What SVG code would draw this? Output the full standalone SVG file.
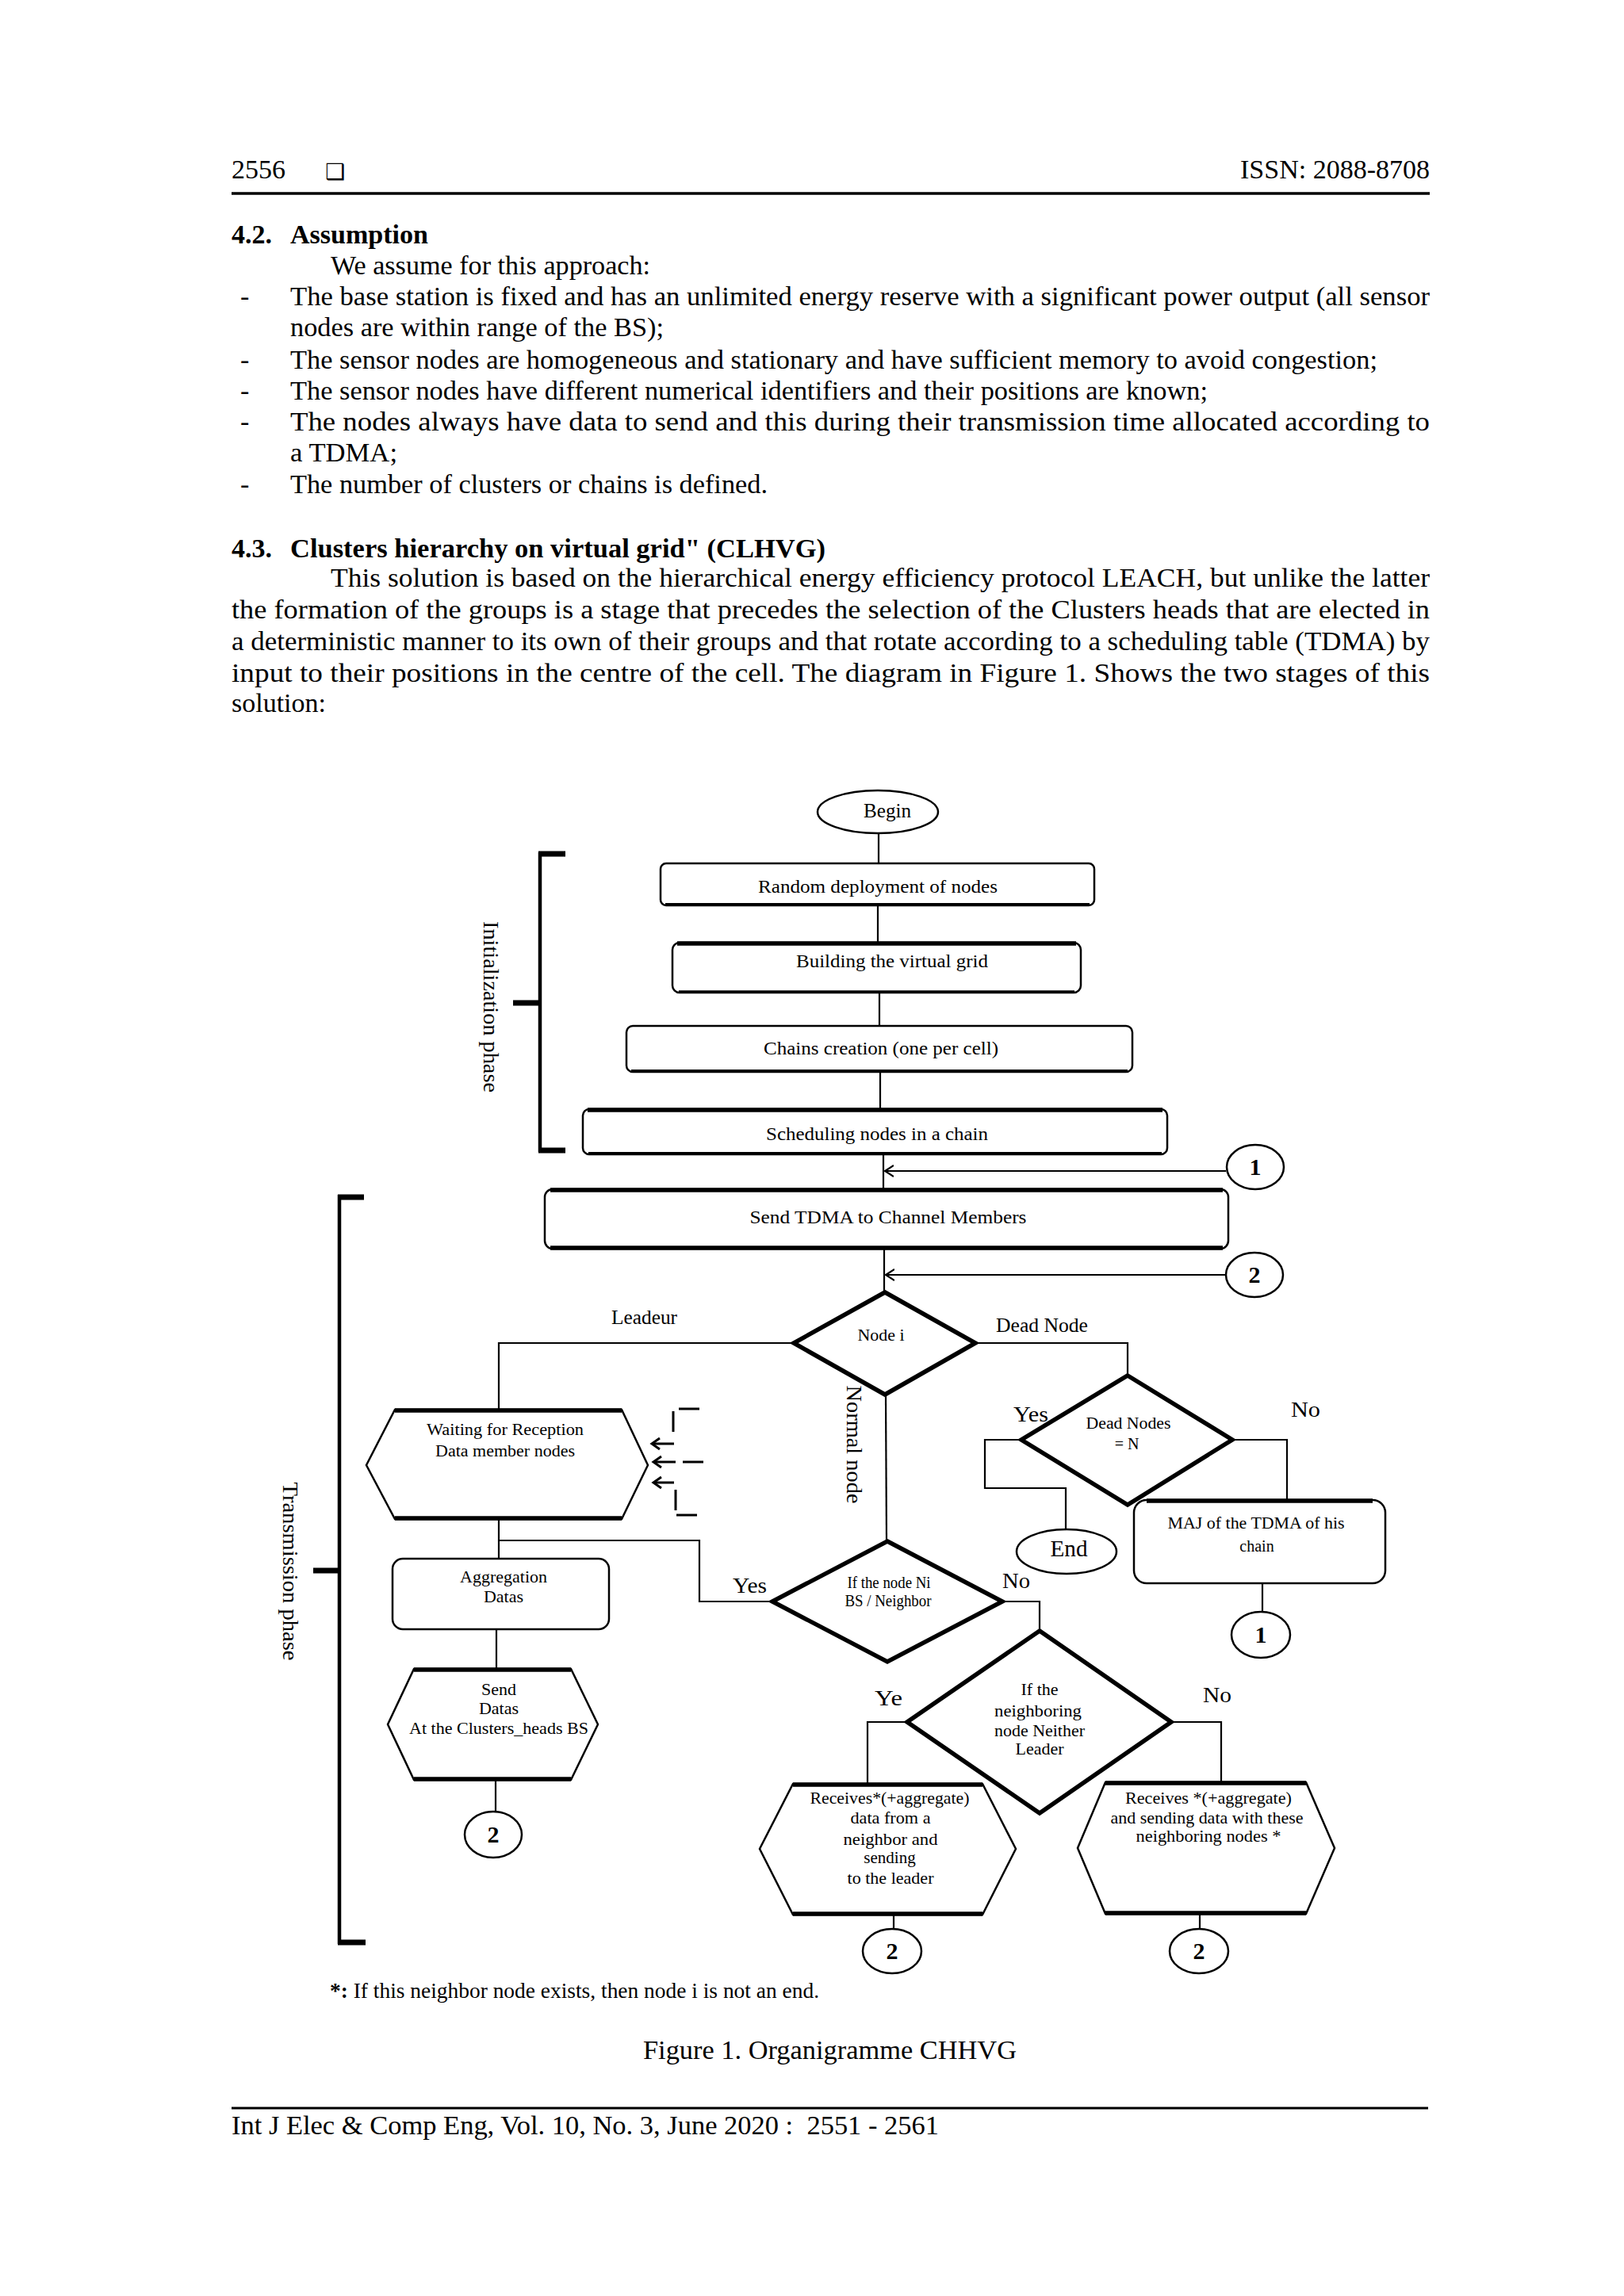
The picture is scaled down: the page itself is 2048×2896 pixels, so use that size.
<svg xmlns="http://www.w3.org/2000/svg" width="2048" height="2896" viewBox="0 0 2048 2896">
<defs>
<style>
.t{font-family:"Liberation Serif","Times New Roman",serif;fill:#000}
.b{font-size:34px}
.bb{font-size:34px;font-weight:bold}
.f{font-size:22px}
.fs{font-size:20px}
.fl{font-size:27px}
.num{font-size:30px;font-weight:bold}
.c{text-anchor:middle}
.ln{fill:none;stroke:#000;stroke-width:2.2}
.box{fill:#fff;stroke:#000;stroke-width:2.5}
.thick{stroke:#000;stroke-width:5.5;fill:none}
.dia{fill:#fff;stroke:#000;stroke-width:5.5;stroke-linejoin:miter}
.hex{fill:#fff;stroke:#000;stroke-width:2.5;stroke-linejoin:miter}
.circ{fill:#fff;stroke:#000;stroke-width:2.5}
.brk{fill:none;stroke:#000;stroke-width:4.5}
.cap{fill:none;stroke:#000;stroke-width:7}
</style>
<marker id="arr" markerUnits="userSpaceOnUse" markerWidth="14" markerHeight="16" refX="11" refY="8" orient="auto">
<path d="M0,1 L11,8 L0,15" fill="none" stroke="#000" stroke-width="2.2"/>
</marker>
</defs>
<rect width="2048" height="2896" fill="#fff"/>

<g id="page-header">
<text class="t b" x="292" y="225">2556</text>
<text x="410" y="226" style="font-family:'DejaVu Sans',sans-serif;font-size:28px">❑</text>
<text class="t b" x="1803" y="225" text-anchor="end">ISSN: 2088-8708</text>
<line x1="292" y1="244" x2="1803" y2="244" stroke="#000" stroke-width="3.5"/>
</g>

<g id="section-4-2">
<text class="t bb" x="292" y="307">4.2.</text>
<text class="t bb" x="366" y="307" textLength="174" lengthAdjust="spacingAndGlyphs">Assumption</text>
<text class="t b" x="417" y="346" textLength="403" lengthAdjust="spacingAndGlyphs">We assume for this approach:</text>
<text class="t b" x="303" y="385">-</text>
<text class="t b" x="366" y="385" textLength="1437" lengthAdjust="spacingAndGlyphs">The base station is fixed and has an unlimited energy reserve with a significant power output (all sensor</text>
<text class="t b" x="366" y="424" textLength="471" lengthAdjust="spacingAndGlyphs">nodes are within range of the BS);</text>
<text class="t b" x="303" y="465">-</text>
<text class="t b" x="366" y="465" textLength="1371" lengthAdjust="spacingAndGlyphs">The sensor nodes are homogeneous and stationary and have sufficient memory to avoid congestion;</text>
<text class="t b" x="303" y="504">-</text>
<text class="t b" x="366" y="504" textLength="1157" lengthAdjust="spacingAndGlyphs">The sensor nodes have different numerical identifiers and their positions are known;</text>
<text class="t b" x="303" y="543">-</text>
<text class="t b" x="366" y="543" textLength="1437" lengthAdjust="spacingAndGlyphs">The nodes always have data to send and this during their transmission time allocated according to</text>
<text class="t b" x="366" y="582" textLength="135" lengthAdjust="spacingAndGlyphs">a TDMA;</text>
<text class="t b" x="303" y="622">-</text>
<text class="t b" x="366" y="622" textLength="602" lengthAdjust="spacingAndGlyphs">The number of clusters or chains is defined.</text>
</g>

<g id="section-4-3">
<text class="t bb" x="292" y="703">4.3.</text>
<text class="t bb" x="366" y="703" textLength="675" lengthAdjust="spacingAndGlyphs">Clusters hierarchy on virtual grid" (CLHVG)</text>
<text class="t b" x="417" y="740" textLength="1386" lengthAdjust="spacingAndGlyphs">This solution is based on the hierarchical energy efficiency protocol LEACH, but unlike the latter</text>
<text class="t b" x="292" y="780" textLength="1511" lengthAdjust="spacingAndGlyphs">the formation of the groups is a stage that precedes the selection of the Clusters heads that are elected in</text>
<text class="t b" x="292" y="820" textLength="1511" lengthAdjust="spacingAndGlyphs">a deterministic manner to its own of their groups and that rotate according to a scheduling table (TDMA) by</text>
<text class="t b" x="292" y="860" textLength="1511" lengthAdjust="spacingAndGlyphs">input to their positions in the centre of the cell. The diagram in Figure 1. Shows the two stages of this</text>
<text class="t b" x="292" y="898" textLength="119" lengthAdjust="spacingAndGlyphs">solution:</text>
</g>

<g id="connectors">
<line class="ln" x1="1108" y1="1051" x2="1108" y2="1089"/>
<line class="ln" x1="1107" y1="1142" x2="1107" y2="1188"/>
<line class="ln" x1="1109" y1="1252" x2="1109" y2="1293"/>
<line class="ln" x1="1110" y1="1352" x2="1110" y2="1398"/>
<line class="ln" x1="1114" y1="1457" x2="1114" y2="1499"/>
<line class="ln" x1="1546" y1="1477" x2="1116" y2="1477" marker-end="url(#arr)"/>
<line class="ln" x1="1115" y1="1575" x2="1115" y2="1630"/>
<line class="ln" x1="1546" y1="1608" x2="1117" y2="1608" marker-end="url(#arr)"/>
<polyline class="ln" points="1001,1694 629,1694 629,1778"/>
<polyline class="ln" points="1230,1694 1422,1694 1422,1735"/>
<line class="ln" x1="1117" y1="1759" x2="1118" y2="1944"/>
<polyline class="ln" points="1288,1816 1242,1816 1242,1877 1344,1877 1344,1929"/>
<polyline class="ln" points="1554,1816 1623,1816 1623,1892"/>
<line class="ln" x1="1592" y1="1997" x2="1592" y2="2033"/>
<line class="ln" x1="629" y1="1916" x2="629" y2="1966"/>
<polyline class="ln" points="629,1943 882,1943 882,2020 974,2020"/>
<line class="ln" x1="626" y1="2055" x2="626" y2="2105"/>
<line class="ln" x1="625" y1="2245" x2="625" y2="2285"/>
<polyline class="ln" points="1264,2020 1311,2020 1311,2057"/>
<polyline class="ln" points="1144,2172 1094,2172 1094,2250"/>
<polyline class="ln" points="1477,2172 1540,2172 1540,2248"/>
<line class="ln" x1="1127" y1="2415" x2="1127" y2="2433"/>
<line class="ln" x1="1513" y1="2414" x2="1513" y2="2433"/>
</g>

<g id="edge-labels">
<text class="t" x="771" y="1670" style="font-size:26px" textLength="83" lengthAdjust="spacingAndGlyphs">Leadeur</text>
<text class="t" x="1256" y="1680" style="font-size:26px" textLength="116" lengthAdjust="spacingAndGlyphs">Dead Node</text>
<text class="t" x="1278" y="1793" style="font-size:28px" textLength="44" lengthAdjust="spacingAndGlyphs">Yes</text>
<text class="t" x="1628" y="1787" style="font-size:28px" textLength="37" lengthAdjust="spacingAndGlyphs">No</text>
<text class="t" x="924" y="2009" style="font-size:28px" textLength="43" lengthAdjust="spacingAndGlyphs">Yes</text>
<text class="t" x="1264" y="2003" style="font-size:28px" textLength="35" lengthAdjust="spacingAndGlyphs">No</text>
<text class="t" x="1103" y="2151" style="font-size:28px" textLength="35" lengthAdjust="spacingAndGlyphs">Ye</text>
<text class="t" x="1517" y="2147" style="font-size:28px" textLength="36" lengthAdjust="spacingAndGlyphs">No</text>
<text class="t c" transform="translate(1077,1822) rotate(90)" x="0" y="9" style="font-size:28px" textLength="149" lengthAdjust="spacingAndGlyphs">Normal node</text>
</g>

<g id="phase-brackets">
<line class="brk" x1="681" y1="1075" x2="681" y2="1453"/>
<line class="cap" x1="679" y1="1077" x2="713" y2="1077"/>
<line class="cap" x1="679" y1="1451" x2="713" y2="1451"/>
<line class="cap" x1="647" y1="1265" x2="683" y2="1265"/>
<text class="t c" transform="translate(619,1270) rotate(90)" x="0" y="9" style="font-size:28px" textLength="216" lengthAdjust="spacingAndGlyphs">Initialization phase</text>
<line class="brk" x1="428" y1="1507" x2="428" y2="2452"/>
<line class="cap" x1="426" y1="1510" x2="459" y2="1510"/>
<line class="cap" x1="426" y1="2450" x2="461" y2="2450"/>
<line class="cap" x1="395" y1="1981" x2="430" y2="1981"/>
<text class="t c" transform="translate(366,1982) rotate(90)" x="0" y="9" style="font-size:28px" textLength="225" lengthAdjust="spacingAndGlyphs">Transmission phase</text>
</g>

<g id="begin">
<ellipse class="circ" cx="1107" cy="1024" rx="76" ry="27"/>
<text class="t c" x="1119" y="1031" style="font-size:25px" textLength="60" lengthAdjust="spacingAndGlyphs">Begin</text>
</g>

<g id="random-deployment">
<rect class="box" x="833" y="1089" width="547" height="53" rx="7"/>
<line class="thick" x1="839" y1="1141" x2="1374" y2="1141" style="stroke-width:4"/>
<text class="t c" x="1107" y="1126" style="font-size:24px" textLength="302" lengthAdjust="spacingAndGlyphs">Random deployment of nodes</text>
</g>

<g id="virtual-grid">
<rect class="box" x="848" y="1189" width="515" height="63" rx="9"/>
<line class="thick" x1="854" y1="1190" x2="1357" y2="1190"/>
<line class="thick" x1="856" y1="1251" x2="1355" y2="1251" style="stroke-width:3.5"/>
<text class="t c" x="1125" y="1220" style="font-size:24px" textLength="242" lengthAdjust="spacingAndGlyphs">Building the virtual grid</text>
</g>

<g id="chains-creation">
<rect class="box" x="790" y="1294" width="638" height="58" rx="8"/>
<line class="thick" x1="796" y1="1351" x2="1422" y2="1351" style="stroke-width:4"/>
<text class="t c" x="1111" y="1330" style="font-size:24px" textLength="296" lengthAdjust="spacingAndGlyphs">Chains creation (one per cell)</text>
</g>

<g id="scheduling">
<rect class="box" x="735" y="1399" width="737" height="57" rx="8"/>
<line class="thick" x1="741" y1="1400" x2="1466" y2="1400"/>
<line class="thick" x1="742" y1="1455" x2="1465" y2="1455" style="stroke-width:4"/>
<text class="t c" x="1106" y="1438" style="font-size:24px" textLength="280" lengthAdjust="spacingAndGlyphs">Scheduling nodes in a chain</text>
</g>

<g id="connector-1-top">
<ellipse class="circ" cx="1583" cy="1472" rx="36" ry="28"/>
<text class="t c num" x="1583" y="1482">1</text>
</g>

<g id="send-tdma">
<rect class="box" x="687" y="1500" width="862" height="75" rx="10"/>
<line class="thick" x1="694" y1="1501" x2="1542" y2="1501"/>
<line class="thick" x1="694" y1="1574" x2="1542" y2="1574"/>
<text class="t c" x="1120" y="1543" style="font-size:24px" textLength="349" lengthAdjust="spacingAndGlyphs">Send TDMA to Channel Members</text>
</g>

<g id="connector-2-top">
<ellipse class="circ" cx="1582" cy="1608" rx="36" ry="28"/>
<text class="t c num" x="1582" y="1618">2</text>
</g>

<g id="node-i">
<polygon class="dia" points="1116,1630 1230,1694 1116,1759 1001,1694"/>
<text class="t c" x="1111" y="1691" style="font-size:20px" textLength="59" lengthAdjust="spacingAndGlyphs">Node i</text>
</g>

<g id="dead-nodes">
<polygon class="dia" points="1422,1735 1554,1816 1422,1898 1288,1816"/>
<text class="t c" x="1423" y="1802" style="font-size:20px" textLength="107" lengthAdjust="spacingAndGlyphs">Dead Nodes</text>
<text class="t c" x="1421" y="1828" style="font-size:20px">= N</text>
</g>

<g id="end">
<ellipse class="circ" cx="1345" cy="1957" rx="63" ry="28"/>
<text class="t c" x="1348" y="1963" style="font-size:30px" textLength="47" lengthAdjust="spacingAndGlyphs">End</text>
</g>

<g id="maj-tdma">
<rect class="box" x="1430" y="1892" width="317" height="105" rx="16"/>
<line class="thick" x1="1446" y1="1893" x2="1731" y2="1893"/>
<text class="t c" x="1584" y="1928" style="font-size:20px" textLength="223" lengthAdjust="spacingAndGlyphs">MAJ of the TDMA of his</text>
<text class="t c" x="1585" y="1957" style="font-size:20px">chain</text>
</g>

<g id="connector-1-bottom">
<ellipse class="circ" cx="1590" cy="2062" rx="37" ry="29"/>
<text class="t c num" x="1590" y="2072">1</text>
</g>

<g id="waiting-reception">
<polygon class="hex" points="498,1778 784,1778 817,1848 784,1916 498,1916 462,1848"/>
<line class="thick" x1="498" y1="1779" x2="784" y2="1779"/>
<line class="thick" x1="498" y1="1915" x2="784" y2="1915"/>
<text class="t c" x="637" y="1810" style="font-size:20px" textLength="198" lengthAdjust="spacingAndGlyphs">Waiting for Reception</text>
<text class="t c" x="637" y="1837" style="font-size:20px" textLength="176" lengthAdjust="spacingAndGlyphs">Data member nodes</text>
</g>

<g id="incoming-members">
<line x1="856" y1="1777" x2="882" y2="1777" stroke="#000" stroke-width="3"/>
<line x1="849" y1="1780" x2="849" y2="1806" stroke="#000" stroke-width="3"/>
<line x1="824" y1="1821" x2="850" y2="1821" stroke="#000" stroke-width="3"/>
<polyline points="832,1814 822,1821 832,1828" fill="none" stroke="#000" stroke-width="3"/>
<line x1="824" y1="1844" x2="852" y2="1844" stroke="#000" stroke-width="3"/>
<polyline points="834,1837 824,1844 834,1851" fill="none" stroke="#000" stroke-width="3"/>
<line x1="861" y1="1844" x2="887" y2="1844" stroke="#000" stroke-width="3"/>
<line x1="824" y1="1870" x2="850" y2="1870" stroke="#000" stroke-width="3"/>
<polyline points="834,1863 824,1870 834,1877" fill="none" stroke="#000" stroke-width="3"/>
<line x1="852" y1="1879" x2="852" y2="1905" stroke="#000" stroke-width="3"/>
<line x1="853" y1="1911" x2="879" y2="1911" stroke="#000" stroke-width="3"/>
</g>

<g id="aggregation">
<rect class="box" x="495" y="1966" width="273" height="89" rx="13"/>
<text class="t c" x="635" y="1996" style="font-size:22px" textLength="110" lengthAdjust="spacingAndGlyphs">Aggregation</text>
<text class="t c" x="635" y="2021" style="font-size:22px">Datas</text>
</g>

<g id="send-datas">
<polygon class="hex" points="522,2105 720,2105 754,2175 720,2245 522,2245 489,2175"/>
<line class="thick" x1="522" y1="2106" x2="720" y2="2106"/>
<line class="thick" x1="522" y1="2244" x2="720" y2="2244"/>
<text class="t c" x="629" y="2138" style="font-size:22px">Send</text>
<text class="t c" x="629" y="2162" style="font-size:22px">Datas</text>
<text class="t c" x="629" y="2187" style="font-size:22px" textLength="226" lengthAdjust="spacingAndGlyphs">At the Clusters_heads BS</text>
</g>

<g id="connector-2-left">
<ellipse class="circ" cx="622" cy="2314" rx="36" ry="29"/>
<text class="t c num" x="622" y="2324">2</text>
</g>

<g id="if-node-ni">
<polygon class="dia" points="1119,1944 1264,2020 1119,2096 974,2020"/>
<text class="t c" x="1121" y="2003" style="font-size:20px" textLength="105" lengthAdjust="spacingAndGlyphs">If the node Ni</text>
<text class="t c" x="1120" y="2026" style="font-size:20px" textLength="109" lengthAdjust="spacingAndGlyphs">BS / Neighbor</text>
</g>

<g id="if-neighboring">
<polygon class="dia" points="1311,2057 1477,2172 1311,2287 1144,2172"/>
<text class="t c" x="1311" y="2138" style="font-size:22px">If the</text>
<text class="t c" x="1309" y="2165" style="font-size:22px" textLength="110" lengthAdjust="spacingAndGlyphs">neighboring</text>
<text class="t c" x="1311" y="2190" style="font-size:22px" textLength="114" lengthAdjust="spacingAndGlyphs">node Neither</text>
<text class="t c" x="1311" y="2213" style="font-size:22px">Leader</text>
</g>

<g id="receives-leader">
<polygon class="hex" points="1000,2250 1239,2250 1281,2332 1239,2415 1000,2415 958,2332"/>
<line class="thick" x1="1000" y1="2251" x2="1239" y2="2251"/>
<line class="thick" x1="1000" y1="2414" x2="1239" y2="2414"/>
<text class="t c" x="1122" y="2275" style="font-size:21px" textLength="201" lengthAdjust="spacingAndGlyphs">Receives*(+aggregate)</text>
<text class="t c" x="1123" y="2300" style="font-size:21px" textLength="101" lengthAdjust="spacingAndGlyphs">data from a</text>
<text class="t c" x="1123" y="2327" style="font-size:21px" textLength="119" lengthAdjust="spacingAndGlyphs">neighbor and</text>
<text class="t c" x="1122" y="2350" style="font-size:21px">sending</text>
<text class="t c" x="1123" y="2376" style="font-size:21px" textLength="109" lengthAdjust="spacingAndGlyphs">to the leader</text>
</g>

<g id="receives-neighbors">
<polygon class="hex" points="1394,2248 1647,2248 1683,2331 1647,2414 1394,2414 1359,2331"/>
<line class="thick" x1="1394" y1="2249" x2="1647" y2="2249"/>
<line class="thick" x1="1394" y1="2413" x2="1647" y2="2413"/>
<text class="t c" x="1524" y="2275" style="font-size:21px" textLength="210" lengthAdjust="spacingAndGlyphs">Receives *(+aggregate)</text>
<text class="t c" x="1522" y="2300" style="font-size:21px" textLength="243" lengthAdjust="spacingAndGlyphs">and sending data with these</text>
<text class="t c" x="1524" y="2323" style="font-size:21px" textLength="183" lengthAdjust="spacingAndGlyphs">neighboring nodes *</text>
</g>

<g id="connector-2-mid">
<ellipse class="circ" cx="1125" cy="2461" rx="37" ry="28"/>
<text class="t c num" x="1125" y="2471">2</text>
</g>

<g id="connector-2-right">
<ellipse class="circ" cx="1512" cy="2461" rx="37" ry="28"/>
<text class="t c num" x="1512" y="2471">2</text>
</g>

<g id="footnote-caption-footer">
<text class="t fl" x="416" y="2520" textLength="617" lengthAdjust="spacingAndGlyphs"><tspan font-weight="bold">*:</tspan> If this neighbor node exists, then node i is not an end.</text>
<text class="t b" x="811" y="2597" textLength="471" lengthAdjust="spacingAndGlyphs">Figure 1. Organigramme CHHVG</text>
<line x1="292" y1="2659" x2="1801" y2="2659" stroke="#000" stroke-width="3"/>
<text class="t b" x="292" y="2692" xml:space="preserve" textLength="892" lengthAdjust="spacingAndGlyphs">Int J Elec &amp; Comp Eng, Vol. 10, No. 3, June 2020 :  2551 - 2561</text>
</g>
</svg>
